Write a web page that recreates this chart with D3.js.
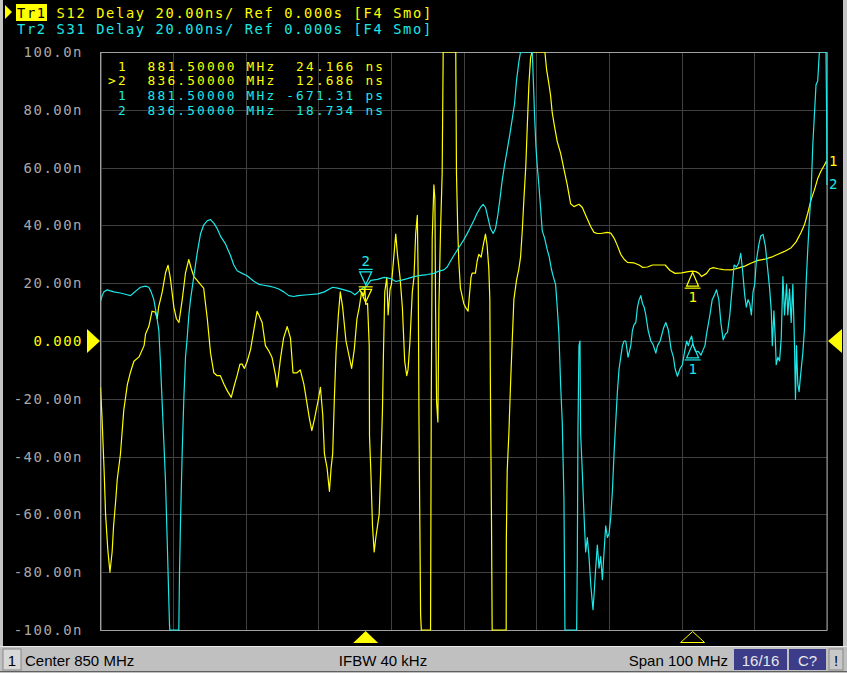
<!DOCTYPE html>
<html>
<head>
<meta charset="utf-8">
<script src="https://cdn.jsdelivr.net/npm/d3@7"></script>
<style>
html,body{margin:0;padding:0;background:#000;overflow:hidden;}
svg{display:block;}
</style>
</head>
<body>
<svg id="chart" width="847" height="673"></svg>
<script>
// ---------------- DATA ----------------
const headerLines = [
  "Tr1 S12 Delay 20.00ns/ Ref 0.000s [F4 Smo]",
  "Tr2 S31 Delay 20.00ns/ Ref 0.000s [F4 Smo]"
];
const markerTableS12 = [" 1  881.50000 MHz  24.166 ns", ">2  836.50000 MHz  12.686 ns"];
const markerTableS31 = [" 1  881.50000 MHz -671.31 ps", " 2  836.50000 MHz  18.734 ns"];
const yTickValues = [100, 80, 60, 40, 20, 0, -20, -40, -60, -80, -100];
const yTickLabels = ["100.0n", "80.00n", "60.00n", "40.00n", "20.00n", "0.000", "-20.00n", "-40.00n", "-60.00n", "-80.00n", "-100.0n"];
const xGridValues = [800, 810, 820, 830, 840, 850, 860, 870, 880, 890, 900];
const markerFreqs = [881.5, 836.5];      // marker 1, marker 2 (MHz)
const markerS12 = [24.166, 12.686];      // ns
const markerS31 = [-0.67131, 18.734];    // ns
const statusLabels = ["1", "Center 850 MHz", "IFBW 40 kHz", "Span 100 MHz", "16/16", "C?", "!"];

// S12 delay trace (MHz, ns)
const freqS12 = [800.0,800.2,800.5,800.7,801.0,801.3,801.6,801.8,802.1,802.3,802.75,803.2,803.7,804.1,804.6,805.3,806.0,806.2,806.65,807.1,807.55,807.8,808.0,808.5,808.95,809.3,809.6,810.1,810.45,810.8,811.25,811.7,812.15,812.5,812.85,813.3,813.75,814.2,814.7,815.15,815.6,816.05,816.5,817.0,817.4,818.0,818.35,818.8,819.2,819.5,819.8,820.2,820.65,821.1,821.55,821.8,822.25,822.7,823.2,823.6,824.1,824.3,824.8,825.2,825.7,826.15,826.5,827.05,827.5,828.0,828.77,829.09,829.45,830.0,830.27,830.59,830.82,831.19,831.51,831.74,831.96,832.19,832.42,832.74,833.01,833.33,833.79,834.25,834.57,834.93,835.3,835.62,835.94,836.21,836.39,836.5,836.76,836.99,837.03,837.21,837.44,837.67,837.9,838.13,838.36,838.58,838.81,838.95,839.13,839.41,839.59,839.86,840.05,840.32,840.64,840.87,841.23,841.55,841.87,842.15,842.33,842.6,842.92,843.15,843.38,843.61,843.74,843.84,844.06,844.16,845.43,845.53,845.66,845.89,846.03,846.12,846.26,846.44,846.58,846.8,847.03,847.17,848.9,849.0,849.18,849.32,849.54,849.77,850.0,850.23,850.59,850.82,851.0,851.15,851.61,851.84,852.07,852.39,852.67,852.99,853.22,853.45,853.59,853.68,853.82,853.91,855.84,855.86,855.98,856.21,856.44,856.67,856.9,857.26,857.59,857.82,858.05,858.28,858.55,858.74,858.97,859.2,859.38,861.17,861.4,861.72,861.95,862.18,862.51,862.87,863.33,863.79,864.25,864.71,865.17,865.86,866.32,866.78,867.47,867.93,868.39,868.85,869.77,870.23,870.69,871.15,871.61,872.07,872.53,873.45,874.14,874.6,875.29,875.98,877.13,877.72,878.4,879.09,880.0,880.91,881.5,881.96,882.37,882.74,883.42,883.88,884.34,885.02,885.71,886.85,887.76,888.68,889.59,890.5,891.42,892.33,893.24,894.16,895.07,895.75,896.44,896.89,897.35,897.81,898.26,898.72,899.18,899.63,899.95];
const valS12 = [-16,-26,-45,-60,-72,-80,-73,-64,-55,-48,-39,-24,-15,-11,-7,-5.5,-1.6,2.4,5,10.3,10,7.7,11.7,17,23.6,26.2,22,11.7,7.7,6.4,14.3,23.6,28.2,25,22.3,21,19.6,18.3,7.7,-4.2,-11,-12,-12,-15,-17,-19.5,-16,-12,-8,-8,-9.5,-7,-3,3.7,10.3,9,6.4,-1.6,-3.6,-5.6,-12,-16,-5.6,1,5,1,-11,-11,-10,-15,-27,-31,-27,-20,-16,-25.5,-39,-44,-52,-44,-39,-20,-4,9,17,11.7,0,-5.6,-9.5,-3,7.7,11.7,17,15.7,18.3,12.7,13,-1.6,-33,-45,-64,-73,-68,-64,-60,-44,-24,-4,17,22,9,18,19.6,27.6,37,30,22,11.7,-7,-12,-10,0,17,22,37,43.5,19.6,-28,-94.5,-100,-100,-21,35.6,54,49,12,-21,-28,11.7,38,58,100,100,58,38,27.6,18.3,15.7,13,11.7,10.3,17,22,23.5,23.5,27.6,30,29,33,37,33,25,14.3,-19,-62.7,-100,-100,-69,-45,-32,-15,0,14.3,21,25,29,38,49,61,74,89,98,100,100,94,89,85,79,74,69,65,59.5,54,47.5,46.5,47.3,46.2,43.5,39.6,37.6,37.2,37.2,37.6,37.3,35.6,33,30,28.3,27.2,27,26.3,25.5,25.6,26.3,26.3,26.3,24.4,23.4,23.6,24,24.2,24,23.4,22.3,23.4,25,25.4,25,24.7,24.6,25.2,25.9,27,27.9,28.3,29,30,31,32.3,34.3,37.6,40.2,44.2,48.9,52.2,56.2,58.8,60.8,62.4];

// S31 delay trace (MHz, ns)
const freqS31 = [800.0,800.23,800.46,800.92,801.83,802.75,803.67,804.13,804.59,805.05,805.5,806.19,806.65,806.97,807.34,807.71,808.03,808.26,808.49,808.72,808.94,809.17,809.31,809.5,809.54,810.78,810.87,811.01,811.24,811.47,811.7,811.93,812.16,812.39,812.84,813.3,813.76,814.22,814.68,815.14,815.6,816.06,816.51,817.2,817.89,818.35,818.81,819.5,820.18,820.64,821.1,821.79,822.48,823.17,823.85,824.54,825.23,825.92,826.61,827.17,828.54,829.91,830.82,831.51,831.96,832.65,833.56,834.47,835.02,835.48,836.07,836.53,837.21,838.13,839.04,839.95,840.64,841.32,842.24,843.15,844.06,844.98,845.89,846.58,847.26,847.72,848.17,848.63,849.32,850.0,850.69,851.37,851.84,852.3,852.67,852.99,853.31,853.68,854.05,854.37,854.69,854.97,855.29,855.61,855.98,856.34,856.67,856.99,857.26,857.59,857.82,859.43,859.56,859.75,859.93,860.11,860.34,860.57,860.8,861.13,861.49,861.77,862.05,862.32,862.64,862.87,863.1,863.33,863.56,863.79,863.93,865.54,865.63,865.72,865.86,866.0,866.09,866.32,866.55,866.78,867.01,867.24,867.47,867.79,867.93,868.16,868.39,868.62,868.85,869.08,869.31,869.54,869.77,870.0,870.23,870.46,870.69,870.92,871.15,871.38,871.61,871.84,872.07,872.3,872.62,872.99,873.22,873.45,873.68,873.91,874.14,874.37,874.6,874.83,875.06,875.38,875.75,876.07,876.44,876.67,877.03,877.49,877.81,878.17,878.54,878.86,879.09,879.41,879.77,880.09,880.46,880.68,880.91,881.14,881.37,881.6,881.92,882.28,882.65,882.97,883.2,883.42,883.88,884.2,884.47,884.79,885.11,885.39,885.71,886.03,886.3,886.62,886.94,887.21,887.53,887.85,888.13,888.36,888.68,888.9,889.13,889.36,889.59,889.82,890.05,890.27,890.59,890.87,891.19,891.51,891.78,892.1,892.33,892.47,892.69,892.88,893.01,893.24,893.47,893.7,893.93,894.16,894.43,894.61,894.84,895.07,895.3,895.53,895.66,895.8,895.98,896.16,896.35,896.67,896.89,897.12,897.35,897.58,897.81,898.04,898.26,898.49,898.72,898.95,899.86,899.95,900.0];
const valS31 = [13.7,15.7,17,17.7,17,16.6,16,15.7,16.7,17.7,18.6,19,18.6,17,14.3,9,3.7,-8,-21.5,-35,-48,-68,-81,-98.5,-100,-100,-81,-62.7,-39,-20,-5.6,1,9,14.3,22.3,30.3,37,40.2,41.6,42,40.8,38.9,36.3,33.6,29.6,26.3,24.3,23.4,22.6,21.6,20.7,19.6,19.3,19,18.6,18,17,15.7,15.4,15.7,16,16.3,17,18,18.6,18.3,17.7,17,16,17,18.3,18.7,21,21.3,22,21.6,20.6,21,21.6,22.3,22.7,23,23.4,24.2,24.6,25.6,27.6,29.6,32.3,35,38.2,41.6,44.2,46.2,47.3,46.2,42.9,38.9,37.2,38.9,43.6,48.9,55.5,60.8,66.1,71.4,76.8,82,90,96.7,100,100,91.4,78,67.5,60.8,54,46.2,38.2,35.6,31.6,29,25,22.3,19.6,11.7,2.4,-14.9,-28,-54.7,-100,-100,-76,-30.8,-1.6,0,-32,-45.4,-60,-73,-68,-74.6,-84,-93,-88,-78.6,-70.6,-78.6,-74.6,-82.6,-73,-64,-68,-66.7,-61,-52,-38.8,-28,-17.5,-9.6,-5.6,-1.6,0,0,-5.6,-1.6,3.7,5.7,6.4,11.7,14.3,15.7,13,11.7,9,3.7,0,-1.3,-4.2,-1.6,0,4.4,6.4,3.7,-2.9,-5.6,-9.6,-12.2,-9.6,-8.2,-2.9,0,-1.6,0.4,1.7,-1.6,-3.6,-3.6,-4.9,-2.9,-1.6,2.4,9,14.3,15.7,17.7,14.3,6.4,0.4,2.4,3,9,18.3,26.3,25.6,27,30.3,25,15.7,11.7,14.3,13,9,17,19.6,27.6,33,36.3,36.9,33,26.3,18.3,10.4,-1.6,10.4,1,-8.2,-5.6,-6.9,1,22.3,9,19.6,9,18,6.4,19.6,-1.6,-20.2,-1.6,-14.9,-17.5,-12.2,-4.2,3.7,19.6,31.6,42.2,51.5,67.5,78,88.7,90,100,100,78,54];

// ---------------- DRAW ----------------
const YEL = "#ffff00", CYA = "#1ce8e8", GRID = "#404040", FRAME = "#a0a0a0", LBL = "#a8a8a8";
const MONO = "'DejaVu Sans Mono', 'Liberation Mono', monospace";
const ADV = 9.9;
const svg = d3.select("#chart");
svg.append("rect").attr("width", 847).attr("height", 673).attr("fill", "#000");
// window borders
svg.append("rect").attr("x", 0).attr("y", 0).attr("width", 3).attr("height", 673).attr("fill", "#c4c4c4");
svg.append("rect").attr("x", 843).attr("y", 0).attr("width", 4).attr("height", 673).attr("fill", "#c4c4c4");

const L = 100.5, R = 827, T = 52, B = 630;
const x = d3.scaleLinear().domain([800, 900]).range([L, R]);
const y = d3.scaleLinear().domain([-100, 100]).range([B, T]);

// grid
const grid = svg.append("g");
grid.selectAll("line.h").data(yTickValues).join("line")
  .attr("x1", L).attr("x2", R).attr("y1", d => Math.round(y(d)) + 0.5).attr("y2", d => Math.round(y(d)) + 0.5)
  .attr("stroke", GRID).attr("stroke-width", 1);
grid.selectAll("line.v").data(xGridValues).join("line")
  .attr("y1", T).attr("y2", B).attr("x1", d => Math.round(x(d)) + 0.5).attr("x2", d => Math.round(x(d)) + 0.5)
  .attr("stroke", GRID).attr("stroke-width", 1);
svg.append("rect").attr("x", L).attr("y", T + 0.5).attr("width", R - L).attr("height", B - T)
  .attr("fill", "none").attr("stroke", FRAME).attr("stroke-width", 1);

function mono(g, str, x0, yb, color, size) {
  const chars = str.split("");
  return g.append("text")
    .attr("x", chars.map((c, i) => (x0 + i * ADV).toFixed(1)).join(" "))
    .attr("y", yb)
    .attr("fill", color)
    .attr("font-family", MONO)
    .attr("font-size", size || 14)
    .text(str.replace(/ /g, "\u00A0"));
}

// y labels
yTickValues.forEach((v, i) => {
  const s = yTickLabels[i];
  mono(svg, s, 83 - s.length * ADV, y(v) + 5, v === 0 ? YEL : LBL, 14);
});

// clip
svg.append("clipPath").attr("id", "clip").append("rect").attr("x", L).attr("y", T).attr("width", R - L + 1).attr("height", B - T + 1);

// marker table (drawn under traces)
const TBL = 12.8;
markerTableS12.forEach((s, i) => mono(svg, s, 108, 70.5 + i * 14.9, YEL, TBL));
markerTableS31.forEach((s, i) => mono(svg, s, 108, 100.3 + i * 14.9, CYA, TBL));

// traces
const line = d3.line().x(d => x(d[0])).y(d => y(Math.max(-100, Math.min(100, d[1]))));
const tg = svg.append("g").attr("clip-path", "url(#clip)");
tg.append("path").datum(freqS12.map((f, i) => [f, valS12[i]])).attr("d", line)
  .attr("fill", "none").attr("stroke", YEL).attr("stroke-width", 1.2).attr("stroke-linejoin", "round");
tg.append("path").datum(freqS31.map((f, i) => [f, valS31[i]])).attr("d", line)
  .attr("fill", "none").attr("stroke", CYA).attr("stroke-width", 1.2).attr("stroke-linejoin", "round");

// markers on traces
function markerDown(color, f, v, label, active) {
  const px = x(f), py = y(v) - 2;
  const g = svg.append("g").attr("fill", "none").attr("stroke", color).attr("stroke-width", 1.2);
  g.append("path").attr("d", `M${px - 6},${py - 13}L${px + 6},${py - 13}L${px},${py}Z`);
  if (active) g.append("line").attr("x1", px - 7).attr("x2", px + 7).attr("y1", py - 15.5).attr("y2", py - 15.5);
  if (label) svg.append("text").attr("x", px).attr("y", py - 19).attr("text-anchor", "middle")
    .attr("fill", color).attr("font-family", MONO).attr("font-size", 14).text(label);
}
function markerUp(color, f, v, label) {
  const px = x(f), py = y(v) + 1;
  const g = svg.append("g").attr("fill", "none").attr("stroke", color).attr("stroke-width", 1.2);
  g.append("path").attr("d", `M${px - 6},${py + 14}L${px + 6},${py + 14}L${px},${py}Z`);
  g.append("line").attr("x1", px - 8).attr("x2", px + 8).attr("y1", py + 16).attr("y2", py + 16);
  svg.append("text").attr("x", px).attr("y", py + 30).attr("text-anchor", "middle")
    .attr("fill", color).attr("font-family", MONO).attr("font-size", 14).text(label);
}
markerDown(YEL, markerFreqs[1], markerS12[1], "", true);
markerDown(CYA, markerFreqs[1], markerS31[1], "2", true);
markerUp(YEL, markerFreqs[0], markerS12[0], "1");
markerUp(CYA, markerFreqs[0], markerS31[0], "1");

// trace end labels
svg.append("text").attr("x", 829).attr("y", y(valS12[valS12.length - 1]) + 5).attr("fill", YEL)
  .attr("font-family", MONO).attr("font-size", 14).text("1");
svg.append("text").attr("x", 829).attr("y", y(valS31[valS31.length - 1]) + 4).attr("fill", CYA)
  .attr("font-family", MONO).attr("font-size", 14).text("2");

// reference triangles
svg.append("path").attr("d", `M87,${y(0) - 12}L100,${y(0)}L87,${y(0) + 12}Z`).attr("fill", YEL);
svg.append("path").attr("d", `M842,${y(0) - 12}L828,${y(0)}L842,${y(0) + 12}Z`).attr("fill", YEL);

// stimulus markers
svg.append("path").attr("d", `M${x(markerFreqs[1]) - 12.5},643L${x(markerFreqs[1]) + 12.5},643L${x(markerFreqs[1])},631Z`).attr("fill", YEL);
svg.append("path").attr("d", `M${x(markerFreqs[0]) - 12},642.5L${x(markerFreqs[0]) + 12},642.5L${x(markerFreqs[0])},631.5Z`)
  .attr("fill", "none").attr("stroke", YEL).attr("stroke-width", 1);

// header
const HDR = 13.7;
svg.append("path").attr("d", "M5,5L12,12L5,19Z").attr("fill", YEL);
svg.append("rect").attr("x", 16).attr("y", 4).attr("width", 31).attr("height", 17).attr("fill", YEL);
mono(svg, headerLines[0].slice(0, 3), 17, 17.5, "#000", HDR);
mono(svg, headerLines[0].slice(4), 17 + 4 * ADV, 17.5, YEL, HDR);
mono(svg, headerLines[1], 17, 33.5, CYA, HDR);

// status bar
const sb = svg.append("g").attr("font-family", "'Liberation Sans Narrow', 'Arial Narrow', 'Liberation Sans', sans-serif").attr("font-size", 15);
sb.append("rect").attr("x", 0).attr("y", 646).attr("width", 847).attr("height", 27).attr("fill", "#c0c0c0");
sb.append("line").attr("x1", 0).attr("x2", 847).attr("y1", 646.5).attr("y2", 646.5).attr("stroke", "#e8e8e8");
sb.append("line").attr("x1", 0).attr("x2", 847).attr("y1", 671.5).attr("y2", 671.5).attr("stroke", "#606060");
sb.append("rect").attr("x", 3).attr("y", 649).attr("width", 18).attr("height", 21).attr("fill", "#d8d8d8").attr("stroke", "#888");
sb.append("text").attr("x", 12).attr("y", 666).attr("text-anchor", "middle").attr("fill", "#000").text(statusLabels[0]);
sb.append("text").attr("x", 25).attr("y", 666).attr("fill", "#000").text(statusLabels[1]);
sb.append("text").attr("x", 383).attr("y", 666).attr("text-anchor", "middle").attr("fill", "#000").text(statusLabels[2]);
sb.append("text").attr("x", 728).attr("y", 666).attr("text-anchor", "end").attr("fill", "#000").text(statusLabels[3]);
sb.append("rect").attr("x", 734).attr("y", 649).attr("width", 53).attr("height", 21).attr("fill", "#3c3c88");
sb.append("text").attr("x", 760.5).attr("y", 666).attr("text-anchor", "middle").attr("fill", "#e8e8e8").text(statusLabels[4]);
sb.append("rect").attr("x", 789).attr("y", 649).attr("width", 37).attr("height", 21).attr("fill", "#3c3c88");
sb.append("text").attr("x", 807.5).attr("y", 666).attr("text-anchor", "middle").attr("fill", "#e8e8e8").text(statusLabels[5]);
sb.append("rect").attr("x", 829).attr("y", 649).attr("width", 14).attr("height", 21).attr("fill", "#c8c8c8").attr("stroke", "#888");
sb.append("text").attr("x", 836).attr("y", 666).attr("text-anchor", "middle").attr("fill", "#000").text(statusLabels[6]);
</script>
</body>
</html>
